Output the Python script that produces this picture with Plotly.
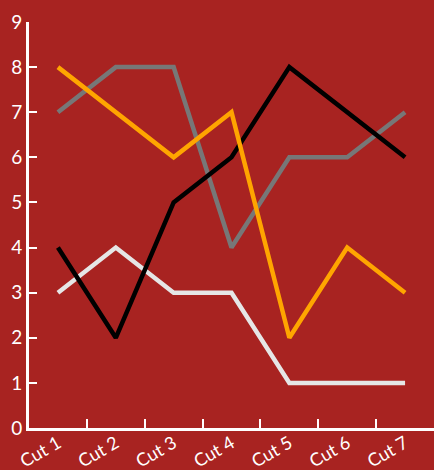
import plotly.graph_objects as go

categories = ["Cut 1", "Cut 2", "Cut 3", "Cut 4", "Cut 5", "Cut 6", "Cut 7"]
gray_vals = [7, 8, 8, 4, 6, 6, 7]
white_vals = [3, 4, 3, 3, 1, 1, 1]
black_vals = [4, 2, 5, 6, 8, 7, 6]
orange_vals = [8, 7, 6, 7, 2, 4, 3]

series = [
    ("Gray", gray_vals, "#777777"),
    ("White", white_vals, "#E6E6E6"),
    ("Black", black_vals, "#000000"),
    ("Orange", orange_vals, "#FFA500"),
]

bg = "#A82321"
fig = go.Figure()
for name, vals, color in series:
    fig.add_trace(go.Scatter(x=categories, y=vals, mode="lines", name=name,
                             line=dict(color=color, width=4.5)))

fig.update_layout(
    width=434, height=470,
    paper_bgcolor=bg, plot_bgcolor=bg,
    showlegend=False,
    margin=dict(l=29, r=0, t=22, b=42),
    font=dict(family="Lato, sans-serif", color="white", size=19),
    xaxis=dict(range=[-0.5, 6.5], showgrid=False, zeroline=False, automargin=False,
               showline=True, linecolor="white", linewidth=3,
               ticks="inside", tickson="boundaries", ticklen=9, tickwidth=2,
               tickcolor="white", tickangle=-30, tickfont=dict(size=18),
               ticklabelstandoff=-5),
    yaxis=dict(range=[0, 9], dtick=1, showgrid=False, zeroline=False, automargin=False,
               showline=True, linecolor="white", linewidth=3,
               ticks="inside", ticklen=8, tickwidth=2, tickcolor="white",
               tickfont=dict(size=19)),
)
fig.write_html("out.html")
